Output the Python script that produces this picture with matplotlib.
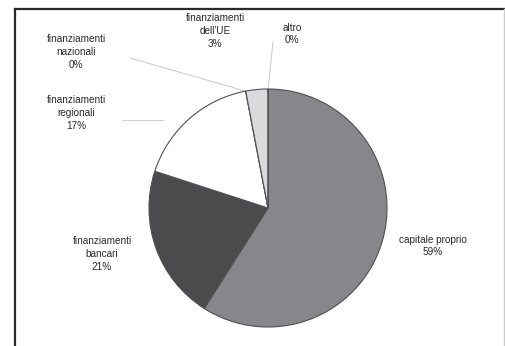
import matplotlib
matplotlib.use("Agg")
import matplotlib.pyplot as plt

# data
labels = ["capitale proprio", "finanziamenti\nbancari", "finanziamenti\nregionali",
          "finanziamenti\nnazionali", "finanziamenti\ndell'UE", "altro"]
values = [59, 21, 17, 0, 3, 0]
pct_text = ["59%", "21%", "17%", "0%", "3%", "0%"]
colors = ["#87878b", "#4b4b4d", "#ffffff", "#ffffff", "#dadadc", "#ffffff"]

W, H = 505, 346
fig = plt.figure(figsize=(W / 100, H / 100), dpi=100)
ax = fig.add_axes([0, 0, 1, 1])
ax.set_xlim(0, W)
ax.set_ylim(H, 0)
ax.axis("off")

# pie, drawn on its own axes so it goes clockwise from the top
cx, cy, r = 268, 208, 119
pax = fig.add_axes([(cx - r) / W, 1 - (cy + r) / H, 2 * r / W, 2 * r / H])
pax.pie(values, colors=colors, startangle=90, counterclock=False,
        wedgeprops=dict(edgecolor="#505050", linewidth=0.8))
pax.set_aspect("auto")
pax.set_xlim(-1, 1)
pax.set_ylim(-1, 1)
pax.axis("off")

# frame
ax.plot([15, 15], [H, 9], color="#2a2a2a", lw=1.6)
ax.plot([15, W], [9, 9], color="#2a2a2a", lw=1.6)
ax.plot([W - 1.5, W - 1.5], [9, H], color="#cccccc", lw=1.0)

# labels (x, y of text centre)
pos = [(433, 246), (102, 254), (76, 113), (76, 52), (215, 31), (292, 34)]
for lab, p, (x, y) in zip(labels, pct_text, pos):
    ax.text(x, y, lab + "\n" + p, ha="center", va="center", fontsize=7.2,
            fontfamily="Liberation Sans", color="#2a2a2a", linespacing=1.35)

# leader lines
lc = "#cfcfcf"
ax.plot([130, 245], [58, 91], color=lc, lw=0.8)
ax.plot([122, 163], [120, 120], color=lc, lw=0.8)
ax.plot([273, 268], [42, 90], color=lc, lw=0.8)

plt.savefig("out.png", dpi=100)
